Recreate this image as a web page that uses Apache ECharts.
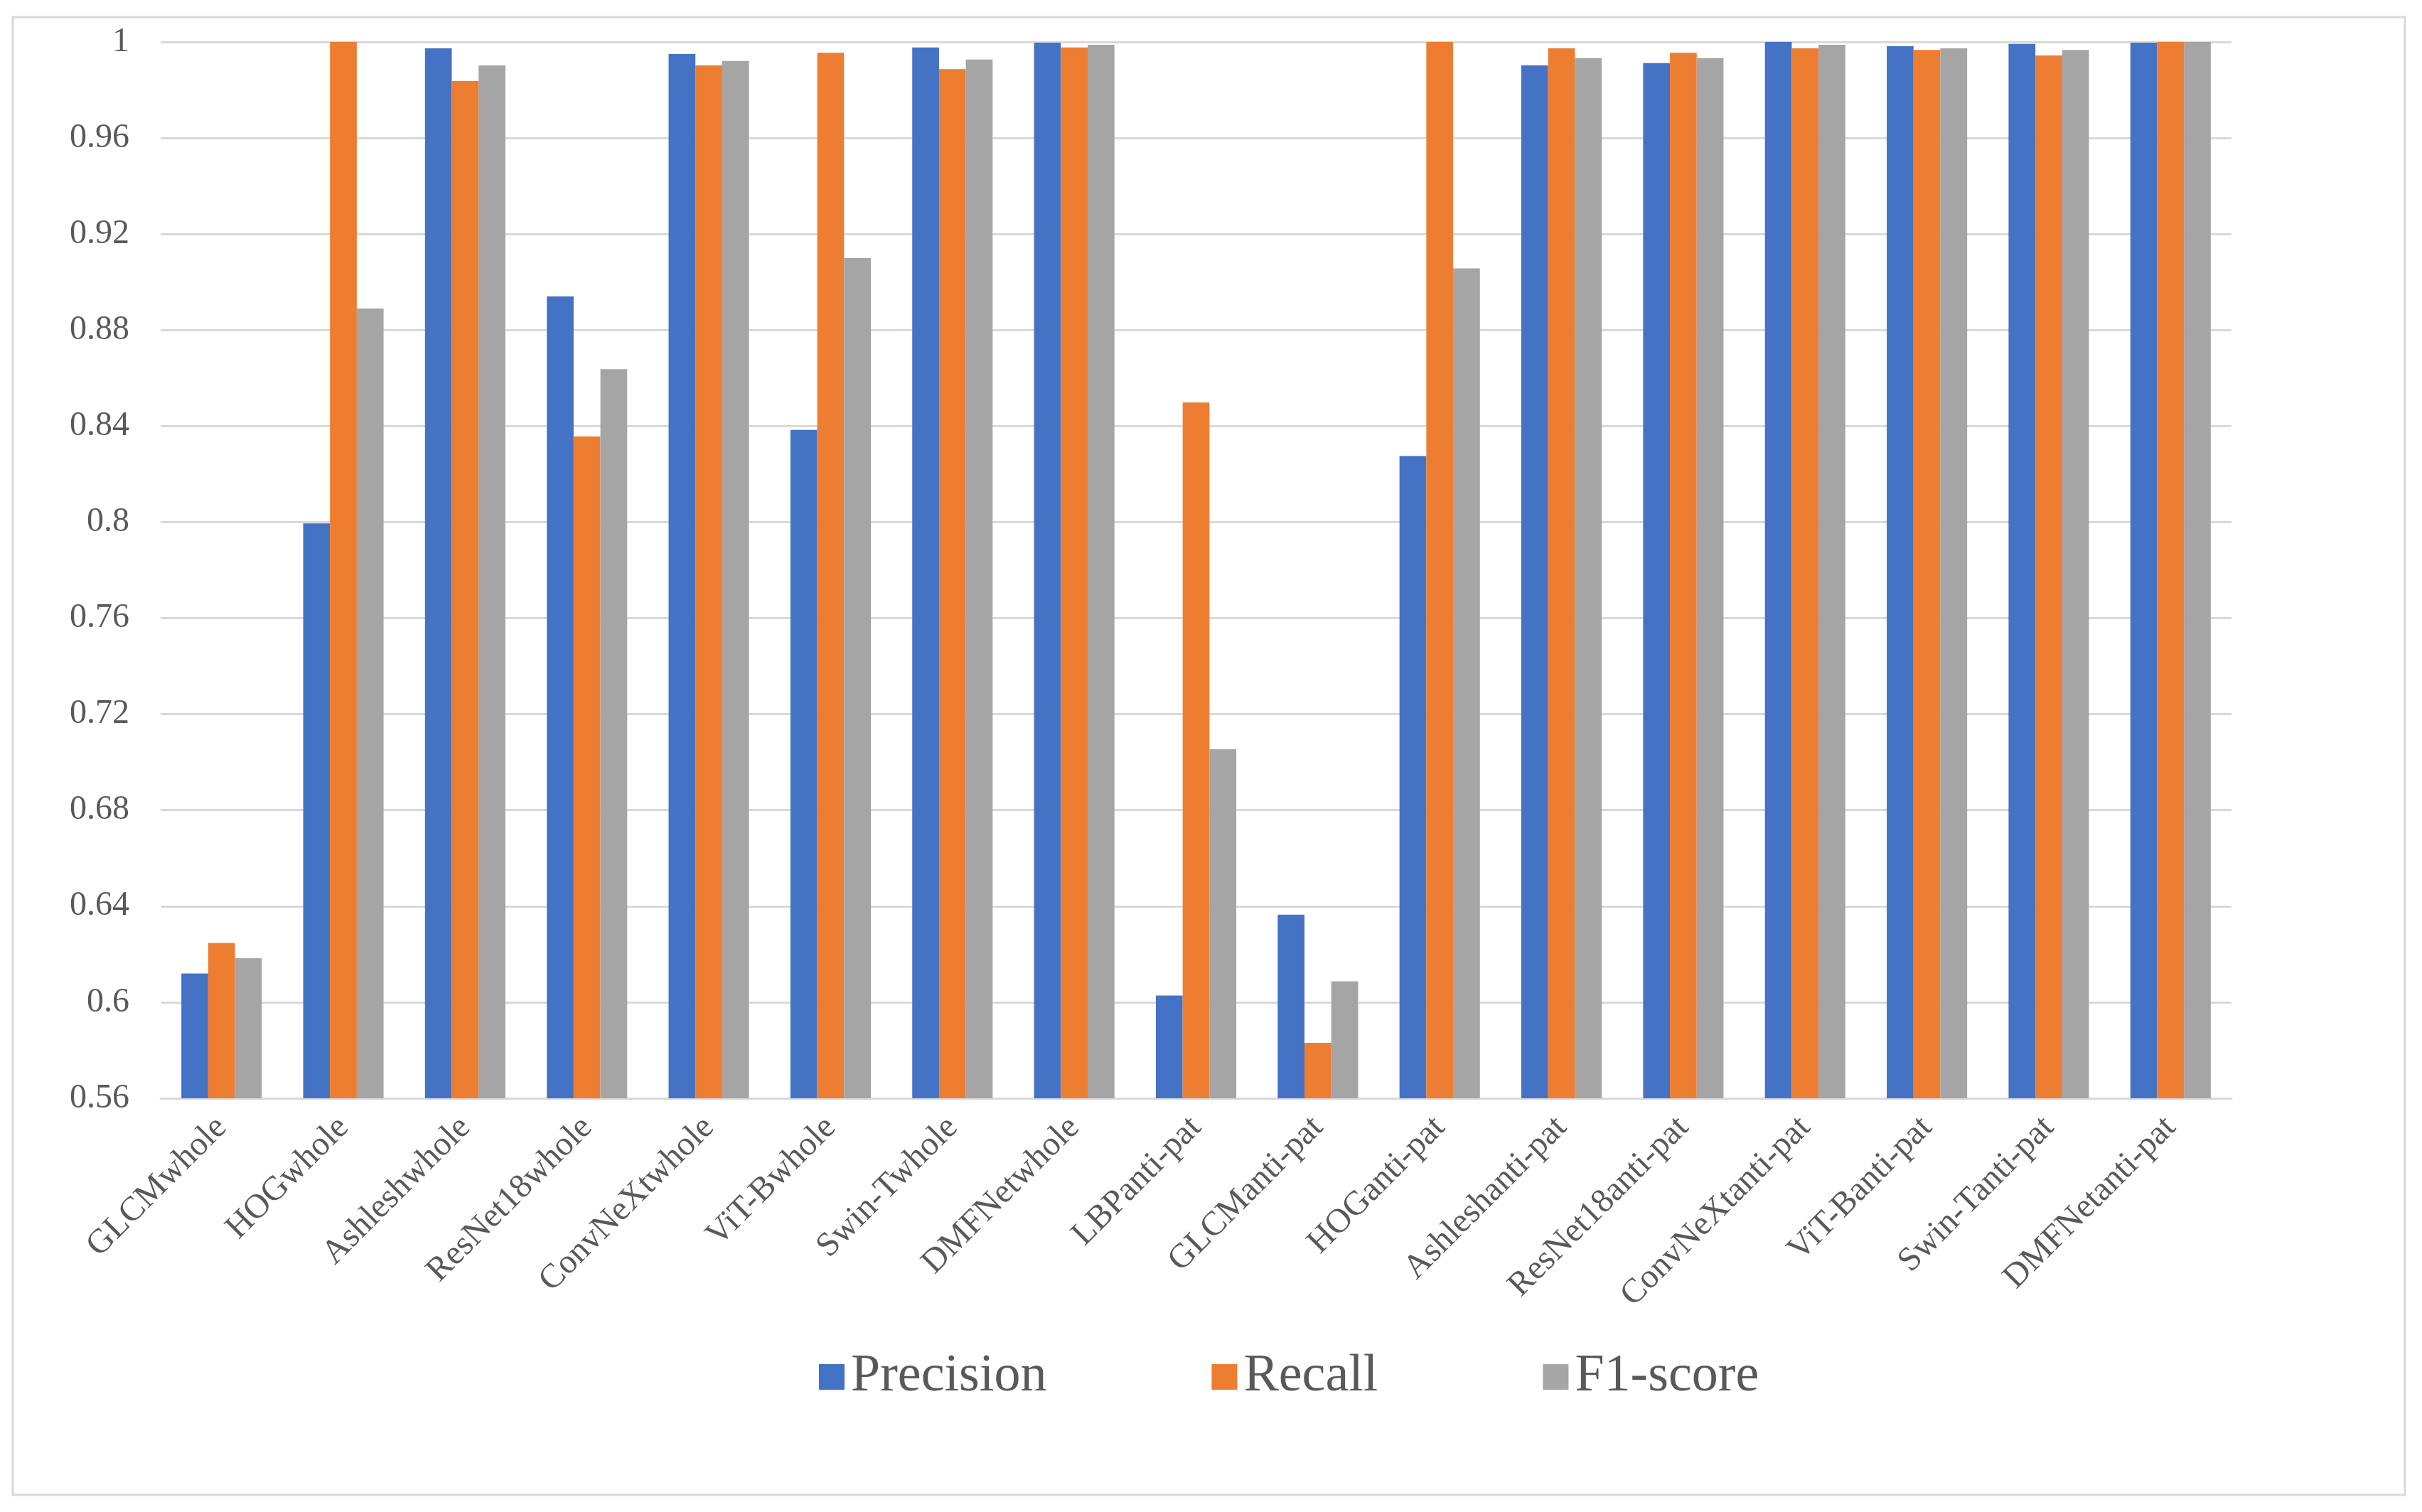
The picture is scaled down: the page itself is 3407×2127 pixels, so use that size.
<!DOCTYPE html>
<html>
<head>
<meta charset="utf-8">
<style>
  html, body { margin: 0; padding: 0; background: #fff; }
  #chart { width: 3407px; height: 2127px; }
</style>
<script src="https://cdn.jsdelivr.net/npm/echarts@6/dist/echarts.min.js"></script>
</head>
<body>
<div id="chart"></div>
<script>
const categories = [
  'GLCMwhole', 'HOGwhole', 'Ashleshwhole', 'ResNet18whole', 'ConvNeXtwhole',
  'ViT-Bwhole', 'Swin-Twhole', 'DMFNetwhole', 'LBPanti-pat', 'GLCManti-pat',
  'HOGanti-pat', 'Ashleshanti-pat', 'ResNet18anti-pat', 'ConvNeXtanti-pat',
  'ViT-Banti-pat', 'Swin-Tanti-pat', 'DMFNetanti-pat',
];
const precision = [0.612, 0.7995, 0.9973, 0.894, 0.995, 0.8384, 0.9977, 0.9997, 0.6028,
  0.6365, 0.8275, 0.9902, 0.9912, 1.0, 0.9982, 0.9992, 0.9997];
const recall = [0.6247, 1.0, 0.9837, 0.8357, 0.9902, 0.9955, 0.9887, 0.9977, 0.8498,
  0.5831, 1.0, 0.9973, 0.9955, 0.9973, 0.9967, 0.9944, 1.0];
const f1 = [0.6183, 0.889, 0.9902, 0.8637, 0.9921, 0.91, 0.9927, 0.9988, 0.7054,
  0.6087, 0.9057, 0.9933, 0.9933, 0.9988, 0.9973, 0.9967, 1.0];

const serif = '"Liberation Serif", "DejaVu Serif", serif';
const textColor = '#595959';
const gridColor = '#d9d9d9';

const chart = echarts.init(document.getElementById('chart'), null, { renderer: 'canvas' });

function barSeries(name, data, color) {
  return {
    name,
    type: 'bar',
    data,
    barGap: '0%',
    barCategoryGap: '34%',
    itemStyle: { color },
    animation: false,
  };
}

chart.setOption({
  backgroundColor: '#ffffff',
  animation: false,
  graphic: [
    {
      type: 'rect',
      shape: { x: 18, y: 24, width: 3365, height: 2079 },
      style: { fill: 'none', stroke: gridColor, lineWidth: 3 },
      silent: true,
    },
  ],
  grid: { left: 226, right: 268, top: 59, bottom: 582 },
  legend: {
    left: 1147,
    top: 1895,
    icon: 'rect',
    itemWidth: 36,
    itemHeight: 36,
    itemGap: 232,
    textStyle: { fontFamily: serif, fontSize: 74, color: textColor, padding: [0, 0, 0, 4] },
    data: ['Precision', 'Recall', 'F1-score'],
  },
  xAxis: {
    type: 'category',
    data: categories,
    axisLine: { lineStyle: { color: gridColor, width: 3 } },
    axisTick: { show: false },
    axisLabel: {
      interval: 0,
      rotate: 45,
      margin: 34,
      fontFamily: serif,
      fontSize: 48,
      color: textColor,
    },
  },
  yAxis: {
    type: 'value',
    min: 0.56,
    max: 1,
    interval: 0.04,
    axisLine: { show: false },
    axisTick: { show: false },
    axisLabel: {
      margin: 44,
      fontFamily: serif,
      fontSize: 48,
      color: textColor,
    },
    splitLine: { lineStyle: { color: gridColor, width: 3 } },
  },
  series: [
    barSeries('Precision', precision, '#4472c4'),
    barSeries('Recall', recall, '#ed7d31'),
    barSeries('F1-score', f1, '#a5a5a5'),
  ],
});

window.addEventListener('resize', () => chart.resize());
</script>
</body>
</html>
